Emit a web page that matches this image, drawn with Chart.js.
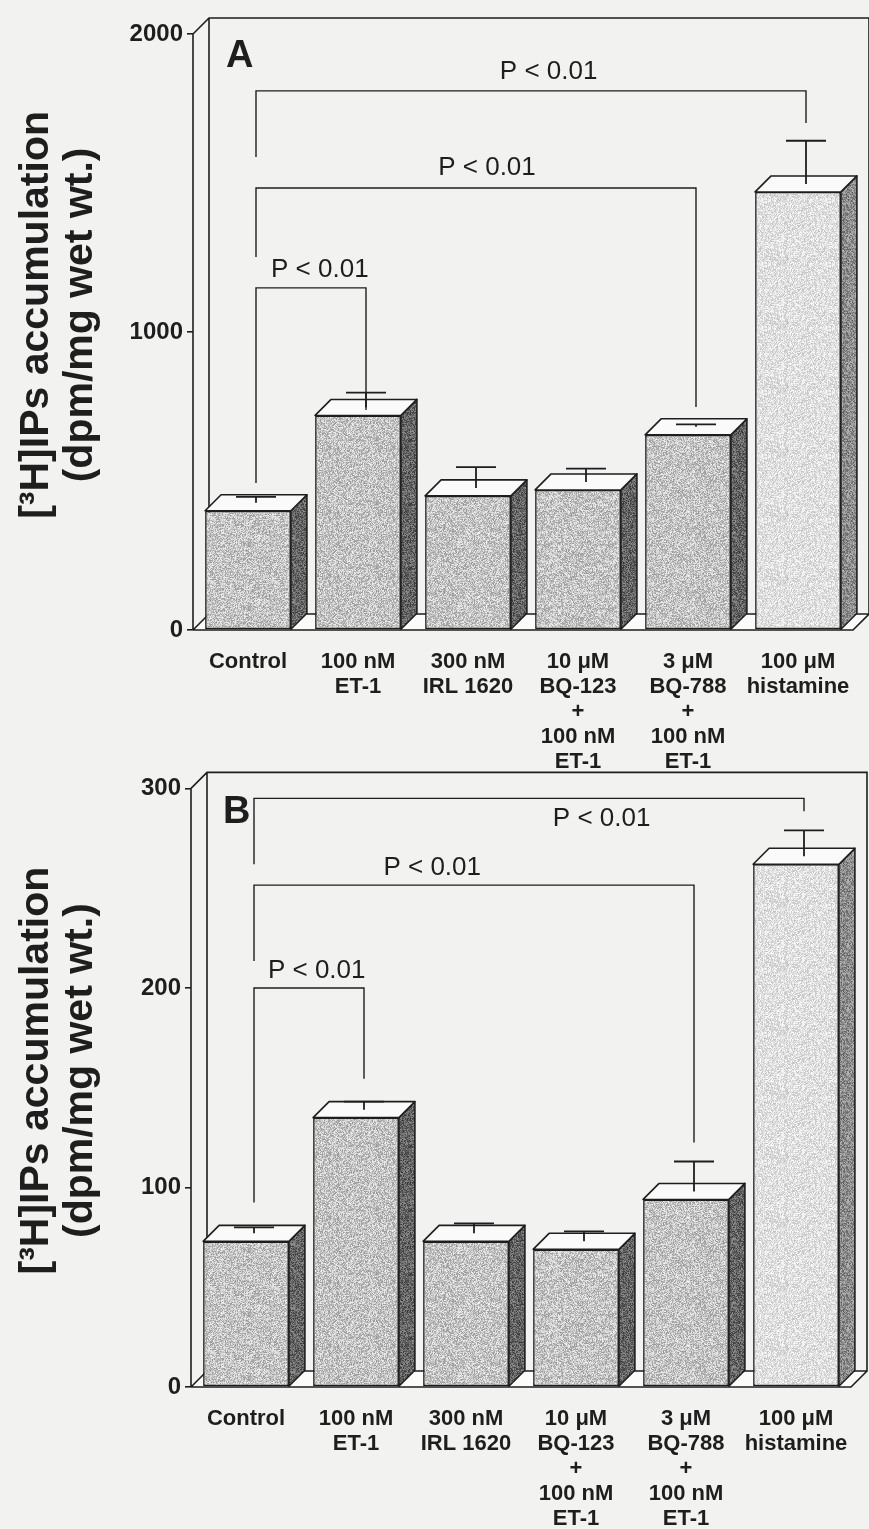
<!DOCTYPE html>
<html>
<head>
<meta charset="utf-8">
<script src="https://cdn.jsdelivr.net/npm/chart.js@4.4.1/dist/chart.umd.min.js"></script>
<style>
  html, body { margin: 0; padding: 0; background: #f2f2f0; }
  #wrap { position: relative; width: 869px; height: 1529px; overflow: hidden; }
  canvas { position: absolute; left: 0; }
  #chartA { top: 0; }
  #chartB { top: 770px; }
</style>
</head>
<body>
<div id="wrap">
  <canvas id="chartA" width="869" height="770"></canvas>
  <canvas id="chartB" width="869" height="759"></canvas>
</div>
<script>
// Data
const categories = [
    ['Control'],
    ['100 nM', 'ET-1'],
    ['300 nM', 'IRL 1620'],
    ['10 \u03bcM', 'BQ-123', '+', '100 nM', 'ET-1'],
    ['3 \u03bcM', 'BQ-788', '+', '100 nM', 'ET-1'],
    ['100 \u03bcM', 'histamine']
];
// leading spaces nudge the rotated title a little above the axis centre, as in the figure
const yTitle = ['   [\u00b3H]IPs accumulation', '   (dpm/mg wet wt.)'];

const valuesA = [400, 720, 450, 470, 655, 1470];
const errorsA = [20, 50, 70, 45, 8, 145];
const ticksA = [0, 1000, 2000];

const valuesB = [73, 135, 73, 69, 94, 262];
const errorsB = [3, 4, 5, 5, 15, 13];
const ticksB = [0, 100, 200, 300];

// significance brackets: from/to category, bar line, leg ends, label position (value units)
const bracketsA = [
    { from: 0, to: 5, line: 1809, leftEnd: 1587, rightEnd: 1701, labelX: 2.66, labelY: 1872 },
    { from: 0, to: 4, line: 1483, leftEnd: 1252, rightEnd: 748, labelX: 2.1, labelY: 1550 },
    { from: 0, to: 1, line: 1148, leftEnd: 493, rightEnd: 738, labelX: 0.58, labelY: 1208 }
];
const bracketsB = [
    { from: 0, to: 5, line: 295, leftEnd: 262, rightEnd: 288.5, labelX: 3.16, labelY: 285 },
    { from: 0, to: 4, line: 251.5, leftEnd: 213.5, rightEnd: 122.5, labelX: 1.62, labelY: 260 },
    { from: 0, to: 1, line: 200, leftEnd: 92.5, rightEnd: 154.5, labelX: 0.57, labelY: 208.5 }
];
const pLabel = 'P < 0.01';

const DEPTH = 16;
const INK = '#1e1e1e';
const FONT = "'Liberation Sans', Arial, sans-serif";

function stipple(ctx, base, spread, seed) {
    const c = document.createElement('canvas');
    c.width = c.height = 64;
    const g = c.getContext('2d');
    const img = g.createImageData(64, 64);
    let s = seed;
    for (let i = 0; i < img.data.length; i += 4) {
        s = (s * 16807) % 2147483647;
        const v = base + (s / 2147483647 - 0.5) * spread;
        img.data[i] = img.data[i + 1] = img.data[i + 2] = v;
        img.data[i + 3] = 255;
    }
    g.putImageData(img, 0, 0);
    return ctx.createPattern(c, 'repeat');
}

const box3d = {
    id: 'box3d',
    beforeDraw(chart) {
        const ctx = chart.ctx;
        ctx.save();
        ctx.fillStyle = '#f2f2f0';
        ctx.fillRect(0, 0, chart.width, chart.height);
        ctx.restore();
    },
    beforeDatasetsDraw(chart) {
        const { left, right, top, bottom } = chart.chartArea;
        const ctx = chart.ctx;
        const d = DEPTH;
        ctx.save();
        // floor
        ctx.fillStyle = '#fbfbfa';
        ctx.beginPath();
        ctx.moveTo(left, bottom);
        ctx.lineTo(left + d, bottom - d);
        ctx.lineTo(right + d, bottom - d);
        ctx.lineTo(right, bottom);
        ctx.closePath();
        ctx.fill();
        ctx.strokeStyle = INK;
        ctx.lineWidth = 1.6;
        ctx.beginPath();
        ctx.moveTo(left, bottom);
        ctx.lineTo(left, top);
        ctx.lineTo(left + d, top - d);
        ctx.lineTo(right + d, top - d);
        ctx.lineTo(right + d, bottom - d);
        ctx.lineTo(left + d, bottom - d);
        ctx.lineTo(left + d, top - d);
        ctx.moveTo(left, bottom);
        ctx.lineTo(left + d, bottom - d);
        ctx.moveTo(left, bottom);
        ctx.lineTo(right, bottom);
        ctx.lineTo(right + d, bottom - d);
        ctx.stroke();
        ctx.restore();
    },
    afterDatasetsDraw(chart, args, opts) {
        const ctx = chart.ctx;
        const d = DEPTH;
        const yScale = chart.scales.y;
        const meta = chart.getDatasetMeta(0);
        const ds = chart.data.datasets[0];
        ctx.save();
        ctx.strokeStyle = INK;
        ctx.lineWidth = 1.6;
        ctx.lineJoin = 'round';
        meta.data.forEach((bar, i) => {
            const { x, y, base, width } = bar.getProps(['x', 'y', 'base', 'width'], true);
            const x0 = x - width / 2, x1 = x + width / 2;
            // side face
            ctx.fillStyle = opts.sides[i];
            ctx.beginPath();
            ctx.moveTo(x1, y);
            ctx.lineTo(x1 + d, y - d);
            ctx.lineTo(x1 + d, base - d);
            ctx.lineTo(x1, base);
            ctx.closePath();
            ctx.fill();
            ctx.stroke();
            // top face
            ctx.fillStyle = '#fafafa';
            ctx.beginPath();
            ctx.moveTo(x0, y);
            ctx.lineTo(x0 + d, y - d);
            ctx.lineTo(x1 + d, y - d);
            ctx.lineTo(x1, y);
            ctx.closePath();
            ctx.fill();
            ctx.stroke();
            // error bar from the centre of the top face
            const ex = x + d / 2;
            const ey = yScale.getPixelForValue(ds.data[i] + opts.errors[i]) - d / 2;
            ctx.lineWidth = 1.8;
            ctx.beginPath();
            ctx.moveTo(ex, y - d / 2);
            ctx.lineTo(ex, ey);
            ctx.moveTo(ex - 20, ey);
            ctx.lineTo(ex + 20, ey);
            ctx.stroke();
            ctx.lineWidth = 1.6;
        });
        ctx.restore();
    },
    afterDraw(chart, args, opts) {
        const ctx = chart.ctx;
        const xs = chart.scales.x, ys = chart.scales.y;
        const off = DEPTH / 2;
        ctx.save();
        ctx.strokeStyle = INK;
        ctx.fillStyle = INK;
        ctx.lineWidth = 1.4;
        opts.brackets.forEach(b => {
            const xa = xs.getPixelForValue(b.from) + off;
            const xb = xs.getPixelForValue(b.to) + off;
            const yl = ys.getPixelForValue(b.line);
            ctx.beginPath();
            ctx.moveTo(xa, ys.getPixelForValue(b.leftEnd));
            ctx.lineTo(xa, yl);
            ctx.lineTo(xb, yl);
            ctx.lineTo(xb, ys.getPixelForValue(b.rightEnd));
            ctx.stroke();
            ctx.font = '26px ' + FONT;
            ctx.textAlign = 'center';
            ctx.textBaseline = 'middle';
            ctx.fillText(pLabel, xs.getPixelForValue(b.labelX) + off, ys.getPixelForValue(b.labelY));
        });
        ctx.font = 'bold 38px ' + FONT;
        ctx.textAlign = 'left';
        ctx.textBaseline = 'alphabetic';
        ctx.fillText(opts.letter, opts.letterX, opts.letterY);
        ctx.restore();
    }
};

function buildPanel(id, values, errors, ticks, brackets, letter, layout) {
    const ctx = document.getElementById(id).getContext('2d');
    const last = values.length - 1;
    const fronts = values.map((v, i) => i === last ? stipple(ctx, 224, 60, 11 + i) : stipple(ctx, 196, 90, 7 + i));
    const sides = values.map((v, i) => i === last ? stipple(ctx, 140, 90, 31 + i) : stipple(ctx, 100, 90, 23 + i));
    const step = ticks[1] - ticks[0];

    return new Chart(ctx, {
        type: 'bar',
        data: {
            labels: categories,
            datasets: [{
                data: values,
                backgroundColor: fronts,
                borderColor: INK,
                borderWidth: 1.6,
                borderSkipped: false,
                categoryPercentage: 1,
                barPercentage: 0.78
            }]
        },
        options: {
            responsive: false,
            animation: false,
            layout: { padding: { top: layout.top, right: layout.right, left: 0, bottom: 0 } },
            plugins: {
                legend: { display: false },
                tooltip: { enabled: false },
                box3d: { sides, errors, brackets, letter, letterX: layout.letterX, letterY: layout.letterY }
            },
            scales: {
                x: {
                    grid: { display: false },
                    border: { display: false },
                    ticks: {
                        color: INK,
                        padding: 11,
                        maxRotation: 0,
                        autoSkip: false,
                        font: { family: FONT, size: 22, weight: 'bold', lineHeight: 1.14 }
                    },
                    afterFit: s => { s.height = layout.xHeight; }
                },
                y: {
                    min: ticks[0],
                    max: ticks[ticks.length - 1],
                    border: { display: false },
                    grid: { drawOnChartArea: false, drawTicks: true, tickLength: 6, color: INK, lineWidth: 1.6 },
                    ticks: {
                        stepSize: step,
                        color: INK,
                        padding: 4,
                        callback: v => String(v),
                        font: { family: FONT, size: 24, weight: 'bold' }
                    },
                    title: {
                        display: true,
                        text: yTitle,
                        color: INK,
                        padding: { top: 15, bottom: 0 },
                        font: { family: FONT, size: 41, weight: 'bold', lineHeight: 1.07 }
                    },
                    afterFit: s => { s.width = layout.yWidth; }
                }
            }
        },
        plugins: [box3d]
    });
}

buildPanel('chartA', valuesA, errorsA, ticksA, bracketsA, 'A',
    { top: 34, right: 16, xHeight: 140, yWidth: 193, letterX: 226, letterY: 67 });
buildPanel('chartB', valuesB, errorsB, ticksB, bracketsB, 'B',
    { top: 17, right: 18, xHeight: 142, yWidth: 191, letterX: 223, letterY: 53 });
</script>
</body>
</html>
